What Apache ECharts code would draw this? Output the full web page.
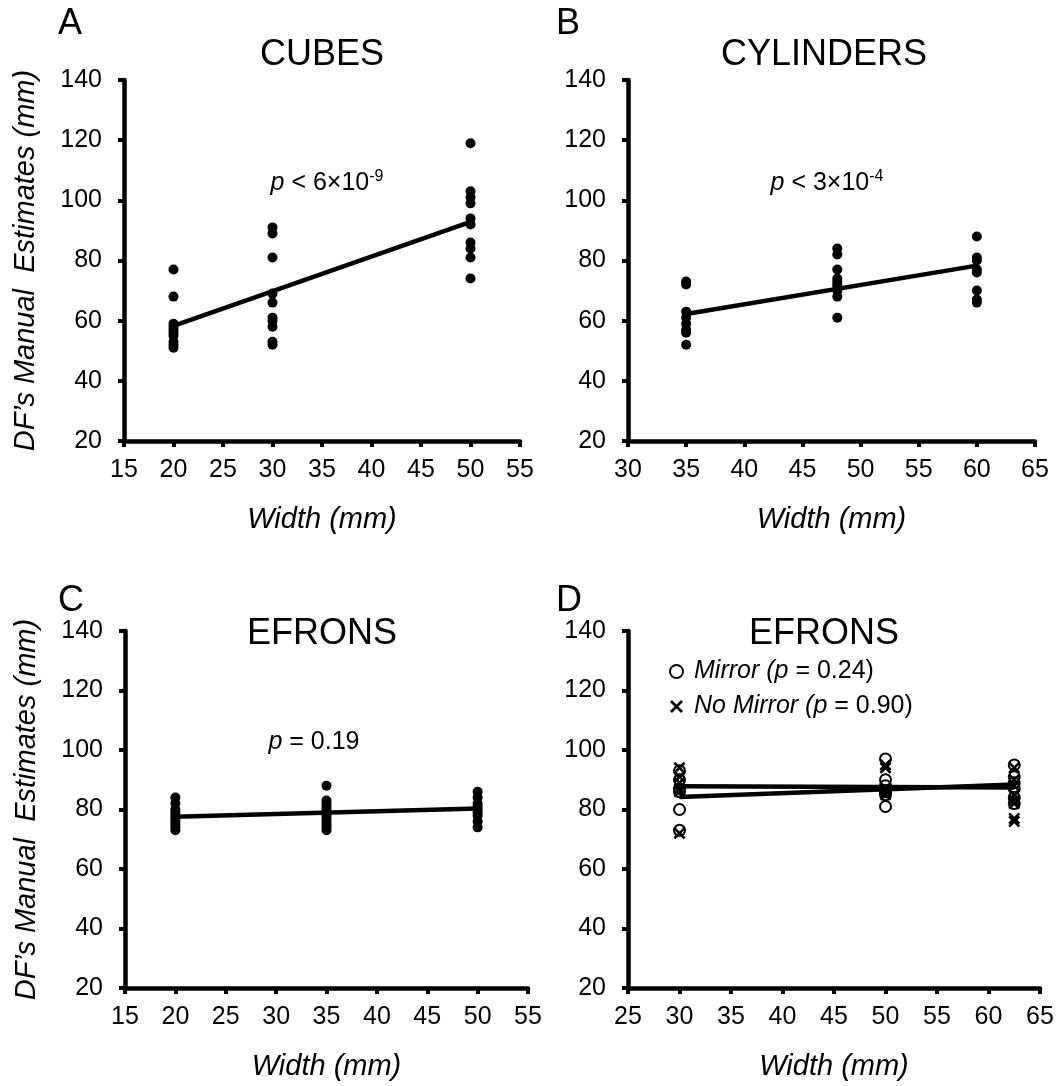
<!DOCTYPE html>
<html>
<head>
<meta charset="utf-8">
<script src="https://cdn.jsdelivr.net/npm/echarts@6/dist/echarts.min.js"></script>
<style>
  html, body { margin: 0; padding: 0; background: #fff; }
  #chart { width: 1057px; height: 1086px; }
</style>
</head>
<body>
<div id="chart"></div>
<script>
// Panel A - cubes
const cubesWidths = [20, 30, 50]
const cubesEstimates = [
    [77, 68, 59, 58, 57, 56, 55, 53, 52, 51],
    [91, 89, 81, 69, 66, 61, 60, 58, 53, 52],
    [119, 103, 101, 99, 94, 92, 86, 84, 81, 74]
]
const cubesFit = [58.3, 92.8]

// Panel B - cylinders
const cylWidths = [35, 48, 60]
const cylEstimates = [
    [73, 72, 63, 61, 59, 57, 56, 52],
    [84, 82, 77, 74, 73, 72, 71, 70, 68, 61],
    [88, 81, 80, 77, 76, 70, 67, 66]
]
const cylFit = [62.2, 78.3]

// Panel C - efrons
const efronWidths = [20, 35, 50]
const efronEstimates = [
    [84, 82, 80, 79, 78, 77, 76, 75, 74, 73],
    [88, 83, 82, 81, 80, 79, 78, 77, 76, 75, 74, 73],
    [86, 84, 82, 81, 80, 79, 78, 76, 74]
]
const efronFit = [77.6, 80.3]

// Panel D - efrons, mirror vs no mirror
const mirrorWidths = [30, 50, 62.5]
const mirrorEstimates = [
    [93, 90, 87, 86, 80, 73],
    [97, 90, 88, 86, 85, 81],
    [95, 91, 89, 87, 84, 82]
]
const noMirrorEstimates = [
    [94, 91, 89, 87, 86, 72],
    [95, 94, 87, 86, 85],
    [94, 90, 88, 85, 83, 82, 77, 76]
]
const mirrorFit = [84.2, 88.4]
const noMirrorFit = [87.8, 87.4]

const yMin = 20, yMax = 140, yStep = 20
const xRanges = [[15, 55], [30, 65], [15, 55], [25, 65]]

const FONT = 'Liberation Sans, Arial, sans-serif'
const crossPath = 'path://M0,1.5 L1.5,0 L5,3.5 L8.5,0 L10,1.5 L6.5,5 L10,8.5 L8.5,10 L5,6.5 L1.5,10 L0,8.5 L3.5,5 Z'

const toPoints = (widths, estimates) =>
    widths.flatMap((w, i) => estimates[i].map(v => [w, v]))

const fitLine = (widths, fit) => [[widths[0], fit[0]], [widths[widths.length - 1], fit[1]]]

const axisLine = { show: true, onZero: false, lineStyle: { color: '#000', width: 4.5 } }
const axisTick = { show: true, length: 6, lineStyle: { color: '#000', width: 4 } }
const axisLabel = { color: '#000', fontSize: 25, fontFamily: FONT }

const grids = [
    { left: 124, top: 80, width: 396, height: 361 },
    { left: 628, top: 80, width: 407, height: 361 },
    { left: 125, top: 631, width: 403, height: 357 },
    { left: 628, top: 631, width: 412, height: 357 }
]

const xAxes = xRanges.map((r, i) => ({
    type: 'value',
    gridIndex: i,
    min: r[0],
    max: r[1],
    interval: 5,
    name: 'Width (mm)',
    nameLocation: 'middle',
    nameGap: 64,
    nameTextStyle: { fontSize: 29, fontStyle: 'italic', color: '#000', fontFamily: FONT },
    axisLine, axisTick,
    axisLabel: { ...axisLabel, margin: 17 },
    splitLine: { show: false }
}))

const yAxes = grids.map((g, i) => ({
    type: 'value',
    gridIndex: i,
    min: yMin,
    max: yMax,
    interval: yStep,
    name: i % 2 === 0 ? 'DF\u2019s Manual  Estimates (mm)' : '',
    nameLocation: 'middle',
    nameGap: 84,
    nameRotate: 90,
    nameTextStyle: { fontSize: 29, fontStyle: 'italic', color: '#000', fontFamily: FONT },
    axisLine, axisTick,
    axisLabel: { ...axisLabel, margin: 22 },
    splitLine: { show: false }
}))

const dot = { symbol: 'circle', symbolSize: 10, itemStyle: { color: '#000', opacity: 1 } }
const fitStyle = { type: 'line', symbol: 'none', lineStyle: { color: '#000', width: 4.5 }, z: 3 }

const series = [
    { name: 'cubes', type: 'scatter', xAxisIndex: 0, yAxisIndex: 0, data: toPoints(cubesWidths, cubesEstimates), ...dot },
    { name: 'cubes fit', xAxisIndex: 0, yAxisIndex: 0, data: fitLine(cubesWidths, cubesFit), ...fitStyle },
    { name: 'cylinders', type: 'scatter', xAxisIndex: 1, yAxisIndex: 1, data: toPoints(cylWidths, cylEstimates), ...dot },
    { name: 'cylinders fit', xAxisIndex: 1, yAxisIndex: 1, data: fitLine(cylWidths, cylFit), ...fitStyle },
    { name: 'efrons', type: 'scatter', xAxisIndex: 2, yAxisIndex: 2, data: toPoints(efronWidths, efronEstimates), ...dot },
    { name: 'efrons fit', xAxisIndex: 2, yAxisIndex: 2, data: fitLine(efronWidths, efronFit), ...fitStyle },
    {
        name: 'Mirror', type: 'scatter', xAxisIndex: 3, yAxisIndex: 3,
        data: toPoints(mirrorWidths, mirrorEstimates),
        symbol: 'circle', symbolSize: 11,
        itemStyle: { color: 'rgba(0,0,0,0)', borderColor: '#000', borderWidth: 2, opacity: 1 }
    },
    {
        name: 'No Mirror', type: 'scatter', xAxisIndex: 3, yAxisIndex: 3,
        data: toPoints(mirrorWidths, noMirrorEstimates),
        symbol: crossPath, symbolSize: 12,
        itemStyle: { color: '#000', opacity: 1 }
    },
    { name: 'mirror fit', xAxisIndex: 3, yAxisIndex: 3, data: fitLine(mirrorWidths, mirrorFit), ...fitStyle },
    { name: 'no mirror fit', xAxisIndex: 3, yAxisIndex: 3, data: fitLine(mirrorWidths, noMirrorFit), ...fitStyle }
]

const txt = { fontFamily: FONT, color: '#000', fontWeight: 'normal' }
const pRich = {
    i: { ...txt, fontSize: 25, fontStyle: 'italic', lineHeight: 28 },
    n: { ...txt, fontSize: 25, lineHeight: 28 },
    s: { ...txt, fontSize: 16, verticalAlign: 'top', lineHeight: 28 }
}

const label = (text, left, top, centered) => ({
    text,
    left,
    top,
    padding: 0,
    textAlign: centered ? 'center' : 'left',
    textStyle: { ...txt, fontSize: 36 }
})

const richLabel = (text, left, top) => ({
    text,
    left,
    top,
    padding: 0,
    textAlign: 'center',
    textStyle: { ...txt, rich: pRich }
})

const chart = echarts.init(document.getElementById('chart'))
chart.setOption({
    animation: false,
    backgroundColor: '#fff',
    title: [
        label('A', 58, 6),
        label('CUBES', 322, 37, true),
        label('B', 556, 6),
        label('CYLINDERS', 824, 37, true),
        label('C', 58, 583),
        label('EFRONS', 322, 616, true),
        label('D', 556, 583),
        label('EFRONS', 824, 616, true),
        richLabel('{i|p}{n| < 6\u00d710}{s|-9}', 327, 169),
        richLabel('{i|p}{n| < 3\u00d710}{s|-4}', 827, 169),
        richLabel('{i|p}{n| = 0.19}', 314, 728)
    ],
    legend: {
        data: ['Mirror', 'No Mirror'],
        orient: 'vertical',
        left: 664,
        top: 654,
        itemGap: 10,
        itemWidth: 13,
        itemHeight: 13,
        formatter: name => name === 'Mirror'
            ? '{i|Mirror (p}{n| = 0.24)}'
            : '{i|No Mirror (p}{n| = 0.90)}',
        textStyle: {
            rich: {
                i: { ...txt, fontSize: 25, fontStyle: 'italic', padding: [0, 0, 0, 6] },
                n: { ...txt, fontSize: 25 }
            }
        }
    },
    grid: grids,
    xAxis: xAxes,
    yAxis: yAxes,
    series
})
</script>
</body>
</html>
